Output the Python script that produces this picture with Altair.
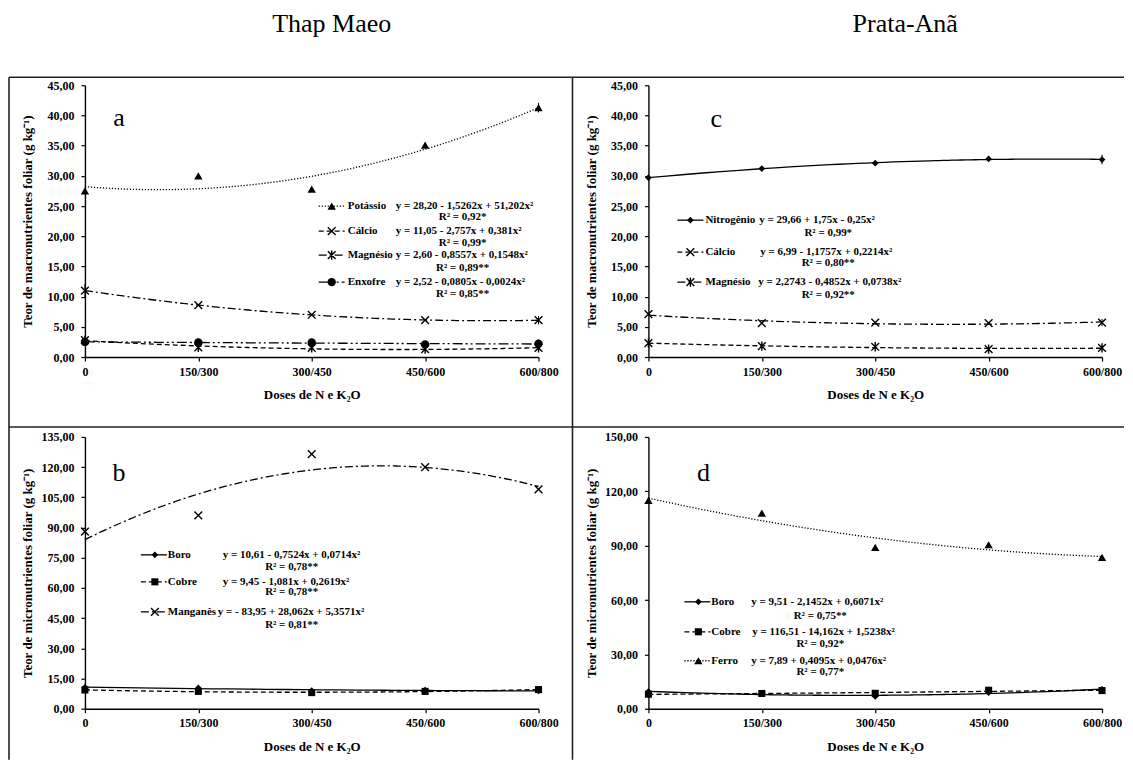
import altair as alt
import pandas as pd

# ---------------- data ----------------
DOSES = ["0", "150/300", "300/450", "450/600", "600/800"]
DOSE_IDX = [0, 1, 2, 3, 4]

# panel a – Thap Maeo, macronutrients
A_NAMES = ["Potássio", "Cálcio", "Magnésio", "Enxofre"]
A_EQS = ["y = 28,20 - 1,5262x + 51,202x²", "y = 11,05 - 2,757x +  0,381x²",
         "y = 2,60 - 0,8557x + 0,1548x²", "y = 2,52 - 0,0805x - 0,0024x²"]
A_R2 = ["R² = 0,92*", "R² = 0,99*", "R² = 0,89**", "R² = 0,85**"]
A_POTASSIO = [27.5, 30.0, 27.8, 35.1, 41.3]
A_CALCIO = [11.0, 8.6, 7.0, 6.1, 6.1]
A_MAGNESIO = [2.8, 1.6, 1.5, 1.3, 1.5]
A_ENXOFRE = [2.5, 2.4, 2.4, 2.1, 2.2]
A_POTASSIO_ERR = [0, 0, 0, 0, 0.8]
A_CALCIO_ERR = [1.1, 0, 0, 0, 0.7]
A_MAGNESIO_ERR = [0, 0, 0, 0, 0]
A_ENXOFRE_ERR = [0, 0, 0, 0, 0.7]

# panel b – Thap Maeo, micronutrients
B_NAMES = ["Boro", "Cobre", "Manganês"]
B_EQS = ["y = 10,61 - 0,7524x + 0,0714x²", "y = 9,45 - 1,081x + 0,2619x²",
         "y = - 83,95 + 28,062x + 5,3571x²"]
B_R2 = ["R² = 0,78**", "R² = 0,78**", "R² = 0,81**"]
B_BORO = [10.6, 10.3, 9.0, 9.3, 8.8]
B_COBRE = [9.3, 8.6, 8.0, 8.6, 9.5]
B_MANGANES = [88.0, 96.0, 126.5, 120.0, 109.0]

# panel c – Prata-Anã, macronutrients
C_NAMES = ["Nitrogênio", "Cálcio", "Magnésio"]
C_EQS = ["y = 29,66  + 1,75x - 0,25x²", "y = 6,99 - 1,1757x + 0,2214x²",
         "y =  2,2743 - 0,4852x + 0,0738x²"]
C_R2 = ["R² = 0,99*", "R² = 0,80**", "R² = 0,92**"]
C_NITROGENIO = [29.7, 31.2, 32.1, 32.8, 32.7]
C_CALCIO = [7.1, 5.6, 5.7, 5.6, 5.7]
C_MAGNESIO = [2.3, 1.8, 1.7, 1.3, 1.5]
C_NITROGENIO_ERR = [0, 0, 0, 0, 0.8]
C_CALCIO_ERR = [0, 0, 0, 0, 0.6]

# panel d – Prata-Anã, micronutrients
D_NAMES = ["Boro", "Cobre", "Ferro"]
D_EQS = ["y = 9,51 - 2,1452x  + 0,6071x²", "y =  116,51 - 14,162x + 1,5238x²",
         "y = 7,89 + 0,4095x  + 0,0476x²"]
D_R2 = ["R² = 0,75**", "R² = 0,92*", "R² = 0,77*"]
D_BORO = [9.5, 8.2, 6.8, 8.8, 10.7]
D_COBRE = [8.0, 8.4, 8.5, 10.2, 10.0]
D_FERRO = [115.0, 108.0, 89.0, 90.5, 83.5]

ZERO5 = [0, 0, 0, 0, 0]

# ---------------- styles / layout ----------------
FONT = "Liberation Serif"
W, H = 454, 272
X_SHAPE = "M-1,-1L1,1M-1,1L1,-1"
AST_SHAPE = "M-1,-1L1,1M-1,1L1,-1M0,-1.2L0,1.2"

STY = {
    "tri": dict(shape="triangle-up", filled=True, size=70),
    "x": dict(shape=X_SHAPE, filled=False, size=60, strokeWidth=1.4),
    "ast": dict(shape=AST_SHAPE, filled=False, size=60, strokeWidth=1.4),
    "circle": dict(shape="circle", filled=True, size=70),
    "diamond": dict(shape="diamond", filled=True, size=45),
    "square": dict(shape="square", filled=True, size=50),
}
DASH = {
    "solid": None,
    "dashed": [5, 3],
    "dashdot": [8, 3, 2, 3],
    "dotted": [1.2, 1.8],
    "dashdotdot": [10, 3, 2, 3, 2, 3],
}

X_LABEL_EXPR = "[" + ",".join("'%s'" % d for d in DOSES) + "][datum.value]"
Y_LABEL_EXPR = "replace(format(datum.value, '.2f'), '.', ',')"


def x_enc():
    return alt.X("x:Q", scale=alt.Scale(domain=[0, 4], nice=False, zero=False),
                 axis=alt.Axis(values=DOSE_IDX, labelExpr=X_LABEL_EXPR,
                               title="Doses de N e K₂O", titleX=W / 2, titleY=38,
                               titleBaseline="middle", labelFlush=False,
                               labelOverlap=False))


def y_enc(field, ymax, step, title):
    return alt.Y(field + ":Q", scale=alt.Scale(domain=[0, ymax], nice=False, zero=True),
                 axis=alt.Axis(values=list(range(0, ymax + 1, step)),
                               labelExpr=Y_LABEL_EXPR, title=title, titleX=-57,
                               titleY=H / 2, titleBaseline="middle", titleAngle=270))


def series_layers(values, errs, marker, dash, ymax, step, title, width=1.3):
    df = pd.DataFrame({"x": DOSE_IDX, "y": values,
                       "lo": [v - e for v, e in zip(values, errs)],
                       "hi": [v + e for v, e in zip(values, errs)]})
    base = alt.Chart(df)
    line_kw = dict(color="black", strokeWidth=width)
    if DASH[dash] is not None:
        line_kw["strokeDash"] = DASH[dash]
    line = base.transform_regression("x", "y", method="poly", order=2).mark_line(
        **line_kw).encode(x=x_enc(), y=y_enc("y", ymax, step, title))
    err = base.transform_filter("datum.hi > datum.lo").mark_rule(
        color="black", strokeWidth=1).encode(
        x=x_enc(), y=y_enc("lo", ymax, step, title), y2="hi:Q")
    pts = base.mark_point(color="black", opacity=1, **STY[marker]).encode(
        x=x_enc(), y=y_enc("y", ymax, step, title))
    return [line, err, pts]


def text_layer(txt, x, y, size=11, bold=True, align="left", baseline="middle", family=FONT):
    return alt.Chart(pd.DataFrame({"t": [txt]})).mark_text(
        font=family, fontSize=size, fontWeight="bold" if bold else "normal",
        align=align, baseline=baseline, color="black").encode(
        x=alt.value(x), y=alt.value(y), text="t:N")


def legend_layers(names, eqs, r2s, markers, dashes, lay):
    out = []
    one = pd.DataFrame({"t": [""]})
    for i, name in enumerate(names):
        ry = lay["rows"][i]
        rule_kw = dict(color="black", strokeWidth=1.3)
        if DASH[dashes[i]] is not None:
            rule_kw["strokeDash"] = DASH[dashes[i]]
        out.append(alt.Chart(one).mark_rule(**rule_kw).encode(
            x=alt.value(lay["sx"][0]), x2=alt.value(lay["sx"][1]), y=alt.value(ry)))
        out.append(alt.Chart(one).mark_point(color="black", opacity=1, **STY[markers[i]]).encode(
            x=alt.value(lay["mx"]), y=alt.value(ry)))
        out.append(text_layer(name, lay["nx"], ry))
        out.append(text_layer(eqs[i], lay["ex"][i], ry))
        out.append(text_layer(r2s[i], lay["rx"], lay["r2"][i], align="center"))
    return out


def frame_rule(x, y, x2=None, y2=None, opacity=1.0):
    enc = dict(x=alt.value(x), y=alt.value(y))
    if x2 is not None:
        enc["x2"] = alt.value(x2)
    if y2 is not None:
        enc["y2"] = alt.value(y2)
    return alt.Chart(pd.DataFrame({"t": [""]})).mark_rule(
        color="#222222", strokeWidth=1.6, opacity=opacity).encode(**enc)


MACRO_T = "Teor de macronutrientes foliar (g kg⁻¹)"
MICRO_T = "Teor de micronutrientes foliar (g kg⁻¹)"

# ---------------- panel a ----------------
layers_a = []
for vals, errs, mk, ds in [(A_POTASSIO, A_POTASSIO_ERR, "tri", "dotted"),
                           (A_CALCIO, A_CALCIO_ERR, "x", "dashdot"),
                           (A_MAGNESIO, A_MAGNESIO_ERR, "ast", "dashed"),
                           (A_ENXOFRE, A_ENXOFRE_ERR, "circle", "dashdotdot")]:
    layers_a += series_layers(vals, errs, mk, ds, 45, 5, MACRO_T)
layers_a += legend_layers(A_NAMES, A_EQS, A_R2, ["tri", "x", "ast", "circle"],
                          ["dotted", "dashed", "dashdot", "dashdotdot"],
                          dict(sx=(234, 260), mx=247, nx=263, ex=[311, 311, 311, 311], rx=378,
                               rows=[121, 146, 170, 197], r2=[132, 158, 183, 209]))
layers_a.append(text_layer("a", 34, 33, size=26, bold=False, align="center"))
layers_a.append(text_layer("Thap Maeo", 247, -53, size=26, bold=False, align="center",
                           baseline="alphabetic"))
# frame of the figure
layers_a += [frame_rule(-77, -77, x2=-76, opacity=0.0),
             frame_rule(-76, -8, x2=1040), frame_rule(-76, 342, x2=1040),
             frame_rule(-76, -8, y2=675), frame_rule(488, -8, y2=675)]
panel_a = alt.layer(*layers_a).properties(width=W, height=H)

# ---------------- panel c ----------------
layers_c = []
for vals, errs, mk, ds in [(C_NITROGENIO, C_NITROGENIO_ERR, "diamond", "solid"),
                           (C_CALCIO, C_CALCIO_ERR, "x", "dashdot"),
                           (C_MAGNESIO, ZERO5, "ast", "dashed")]:
    layers_c += series_layers(vals, errs, mk, ds, 45, 5, MACRO_T)
layers_c += legend_layers(C_NAMES, C_EQS, C_R2, ["diamond", "x", "ast"],
                          ["solid", "dashed", "dashdot"],
                          dict(sx=(29, 55), mx=42, nx=57, ex=[111, 112, 110], rx=180,
                               rows=[135, 167, 197], r2=[148, 178, 210]))
layers_c.append(text_layer("c", 68, 34, size=26, bold=False, align="center"))
layers_c.append(text_layer("Prata-Anã", 257, -53, size=26, bold=False, align="center",
                           baseline="alphabetic"))
panel_c = alt.layer(*layers_c).properties(width=W, height=H)

# ---------------- panel b ----------------
layers_b = []
for vals, errs, mk, ds in [(B_BORO, ZERO5, "diamond", "solid"),
                           (B_COBRE, ZERO5, "square", "dashed"),
                           (B_MANGANES, ZERO5, "x", "dashdot")]:
    layers_b += series_layers(vals, errs, mk, ds, 135, 15, MICRO_T)
layers_b += legend_layers(B_NAMES, B_EQS, B_R2, ["diamond", "square", "x"],
                          ["solid", "dashed", "dashdot"],
                          dict(sx=(56, 82), mx=70, nx=83, ex=[138, 138, 133], rx=207,
                               rows=[118, 145, 175], r2=[130, 155, 188]))
layers_b.append(text_layer("b", 34, 36, size=26, bold=False, align="center"))
panel_b = alt.layer(*layers_b).properties(width=W, height=H)

# ---------------- panel d ----------------
layers_d = []
for vals, errs, mk, ds in [(D_BORO, ZERO5, "diamond", "solid"),
                           (D_COBRE, ZERO5, "square", "dashed"),
                           (D_FERRO, ZERO5, "tri", "dotted")]:
    layers_d += series_layers(vals, errs, mk, ds, 150, 30, MICRO_T)
layers_d += legend_layers(D_NAMES, D_EQS, D_R2, ["diamond", "square", "tri"],
                          ["solid", "dashed", "dotted"],
                          dict(sx=(36, 62), mx=50, nx=63, ex=[103, 104, 103], rx=172,
                               rows=[165, 195, 224], r2=[179, 207, 235]))
layers_d.append(text_layer("d", 55, 36, size=26, bold=False, align="center"))
panel_d = alt.layer(*layers_d).properties(width=W, height=H)

chart = alt.concat(panel_a, panel_c, panel_b, panel_d, columns=2,
                   spacing={"row": 80, "column": 110}, bounds="flush").properties(
    padding=0, background="white"
).configure_view(stroke=None).configure_axis(
    grid=False, domainColor="black", domainWidth=1.4, tickColor="black", tickSize=4,
    tickWidth=1.2, labelFont=FONT, labelFontWeight="bold", labelFontSize=12,
    labelColor="black", labelPadding=7, titleFont=FONT, titleFontWeight="bold",
    titleFontSize=13, titleColor="black"
).configure_axisX(labelPadding=5)

chart.save("out.html", embed_options={"renderer": "svg", "actions": False})
